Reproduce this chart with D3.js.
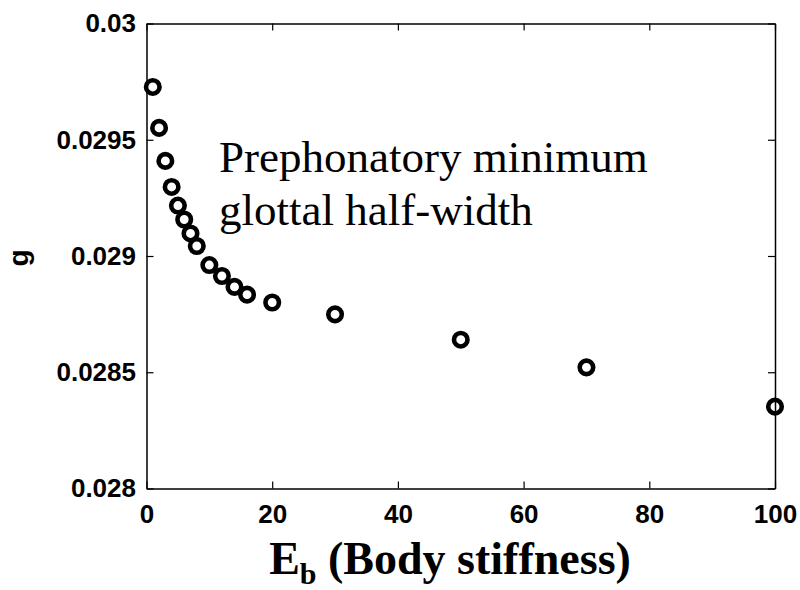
<!DOCTYPE html>
<html>
<head>
<meta charset="utf-8">
<script src="https://cdn.jsdelivr.net/npm/d3@7"></script>
<style>
  html, body { margin: 0; padding: 0; background: #fff; }
  svg { display: block; }
  .tick text { font-family: Arial, "Liberation Sans", sans-serif; font-weight: bold; font-size: 26px; fill: #000; }
</style>
</head>
<body>
<svg id="chart" width="800" height="590"></svg>
<script>
// ---- data ----
const stiffness = [1, 2, 3, 4, 5, 6, 7, 8, 10, 12, 14, 16, 20, 30, 50, 70, 100];
const halfWidth = [0.029727, 0.029551, 0.029409, 0.029297, 0.029217, 0.029157, 0.029097, 0.029043,
                   0.028961, 0.028914, 0.028867, 0.028834, 0.028800, 0.028749, 0.028640, 0.028521, 0.028352];
const xTicks = [0, 20, 40, 60, 80, 100];
const yTicks = [0.028, 0.0285, 0.029, 0.0295, 0.03];
const yTickLabels = ["0.028", "0.0285", "0.029", "0.0295", "0.03"];
const annotationLines = ["Prephonatory minimum", "glottal half-width"];
const xLabelMain = "E", xLabelSub = "b", xLabelRest = " (Body stiffness)";
const yLabel = "g";

// ---- layout ----
const pLeft = 146.5, pRight = 775, pTop = 23.5, pBottom = 488.5;
const svg = d3.select("#chart");

const x = d3.scaleLinear().domain([0, 100]).range([pLeft, pRight]);
const y = d3.scaleLinear().domain([0.028, 0.03]).range([pBottom, pTop]);

const tick = 7;

// bottom axis
const gx = svg.append("g").attr("transform", `translate(0,${pBottom})`)
  .call(d3.axisBottom(x).tickValues(xTicks).tickFormat(d3.format("d"))
        .tickSizeInner(-tick).tickSizeOuter(0).tickPadding(16.5));
// left axis
const gy = svg.append("g").attr("transform", `translate(${pLeft},0)`)
  .call(d3.axisLeft(y).tickValues(yTicks).tickFormat((d, i) => yTickLabels[i])
        .tickSizeInner(-tick).tickSizeOuter(0).tickPadding(10.5));
// top axis
const gt = svg.append("g").attr("transform", `translate(0,${pTop})`)
  .call(d3.axisTop(x).tickValues(xTicks).tickFormat("")
        .tickSizeInner(-tick).tickSizeOuter(0));
// right axis
const gr = svg.append("g").attr("transform", `translate(${pRight},0)`)
  .call(d3.axisRight(y).tickValues(yTicks).tickFormat("")
        .tickSizeInner(-tick).tickSizeOuter(0));

[gx, gy, gt, gr].forEach(g => {
  g.select(".domain").attr("stroke", "#000").attr("stroke-width", 1.5);
  g.selectAll(".tick line").attr("stroke", "#000").attr("stroke-width", 1.2);
  g.attr("font-family", null).attr("font-size", null);
});

// markers
svg.append("g").selectAll("circle")
  .data(stiffness.map((s, i) => [s, halfWidth[i]]))
  .join("circle")
  .attr("cx", d => x(d[0]))
  .attr("cy", d => y(d[1]))
  .attr("r", 6.75)
  .attr("fill", "none")
  .attr("stroke", "#000")
  .attr("stroke-width", 4.6);

// annotation
const ann = svg.append("text")
  .attr("font-family", "'Times New Roman', 'Liberation Serif', serif")
  .attr("font-size", 45)
  .attr("fill", "#000");
ann.selectAll("tspan").data(annotationLines).join("tspan")
  .attr("x", 219)
  .attr("y", (d, i) => 172 + i * 53)
  .text(d => d);

// x label
const xl = svg.append("text")
  .attr("x", 450).attr("y", 574)
  .attr("text-anchor", "middle")
  .attr("font-family", "'Times New Roman', 'Liberation Serif', serif")
  .attr("font-weight", "bold")
  .attr("font-size", 46)
  .attr("fill", "#000");
xl.append("tspan").text(xLabelMain);
xl.append("tspan").attr("font-size", 30).attr("dy", 10).text(xLabelSub);
xl.append("tspan").attr("dy", -10).text(xLabelRest);

// y label
svg.append("text")
  .attr("transform", "translate(28,258) rotate(-90)")
  .attr("text-anchor", "middle")
  .attr("font-family", "Arial, 'Liberation Sans', sans-serif")
  .attr("font-weight", "bold")
  .attr("font-size", 28)
  .attr("fill", "#000")
  .text(yLabel);
</script>
</body>
</html>
